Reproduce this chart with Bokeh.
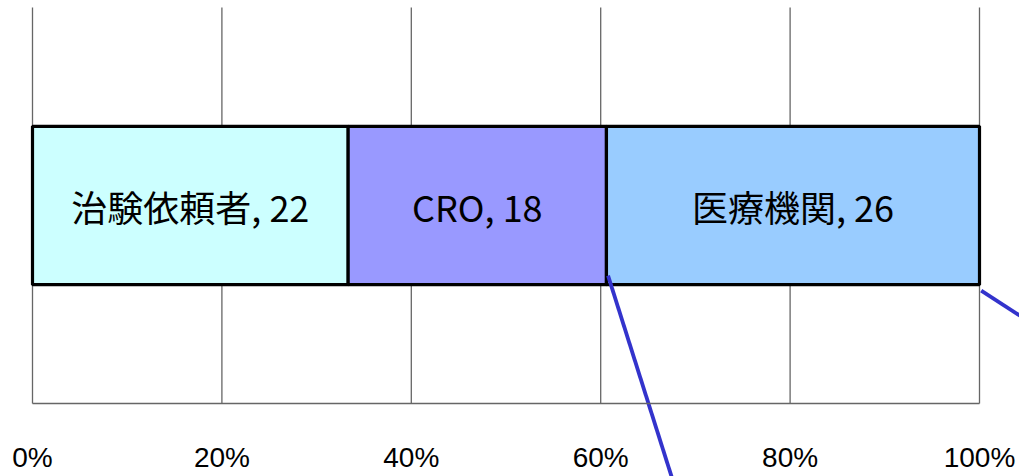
import numpy as np
from bokeh.plotting import figure
from bokeh.models import ColumnDataSource, Range1d, FixedTicker, NumeralTickFormatter, LinearAxis
from bokeh.core.properties import value
from bokeh.embed import file_html
from bokeh.resources import INLINE

# data
categories = ["治験依頼者", "CRO", "医療機関"]
counts = [22, 18, 26]
colors = ["#CCFFFF", "#9999FF", "#99CCFF"]
tick_values = [0, 0.2, 0.4, 0.6, 0.8, 1.0]

total = sum(counts)
fractions = [c / total for c in counts]
rights = list(np.cumsum(fractions))
lefts = [0.0] + rights[:-1]
centers = [(l + r) / 2 for l, r in zip(lefts, rights)]
labels = [f"{c}, {n}" for c, n in zip(categories, counts)]

src = ColumnDataSource(dict(left=lefts, right=rights, y=[0.5] * 3, color=colors,
                            xc=centers, label=labels))

# layout: plot-area x 0..1 maps to 32..979 px, y 0..1 maps to 403..7 px
W, H = 1019, 476
px_x = 947.0
px_y = 396.0
x_range = Range1d(-32 / px_x, 1 + (W - 979) / px_x)
y_range = Range1d(-(H - 403) / px_y, 1 + 7 / px_y)

p = figure(width=W, height=H, output_backend="svg", toolbar_location=None,
           x_range=x_range, y_range=y_range,
           x_axis_location=None, y_axis_location=None,
           min_border_left=0, min_border_right=0, min_border_top=0, min_border_bottom=0)
p.outline_line_color = None
p.background_fill_color = "white"
p.grid.visible = False

# vertical grid lines at tick positions (from axis baseline to top)
grid_src = ColumnDataSource(dict(x=tick_values, y0=[0] * len(tick_values), y1=[1] * len(tick_values)))
p.segment(x0="x", y0="y0", x1="x", y1="y1", source=grid_src, line_color="#666666", line_width=1.3)

p.hbar(y="y", left="left", right="right", height=0.4, fill_color="color",
       line_color="black", line_width=3.2, source=src)
p.text(x="xc", y="y", text="label", source=src, text_align="center", text_baseline="middle",
       text_font=value("Noto Sans CJK JP"), text_font_size="36px", text_color="black")

# callout connector lines (leading to a following breakdown chart)
cx0 = [rights[1] + 0.0017, rights[2] + 0.0018]
cy0 = [0.323, 0.285]
cx1 = [rights[1] + 0.0695, rights[2] + 0.048]
cy1 = [-0.19, 0.2135]
p.segment(x0=cx0, y0=cy0, x1=cx1, y1=cy1, line_color="#3333CC", line_width=3.8)

xaxis = LinearAxis(fixed_location=0, bounds=(0, 1))
xaxis.ticker = FixedTicker(ticks=tick_values)
xaxis.formatter = NumeralTickFormatter(format="0%")
xaxis.axis_line_color = "#666666"
xaxis.axis_line_width = 1.3
xaxis.major_tick_line_color = None
xaxis.minor_tick_line_color = None
xaxis.major_tick_out = 0
xaxis.major_tick_in = 0
xaxis.major_label_standoff = 38
xaxis.major_label_text_font = "Liberation Sans"
xaxis.major_label_text_font_size = "28px"
xaxis.major_label_text_color = "black"
p.add_layout(xaxis, "below")

open("out.html", "w").write(file_html(p, INLINE))
